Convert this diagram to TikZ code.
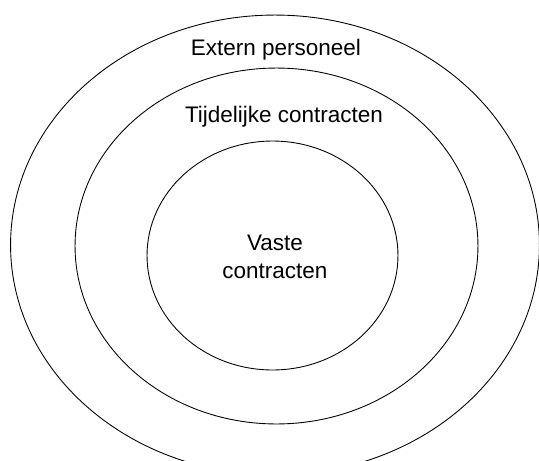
\documentclass[tikz,border=0pt]{standalone}
\usepackage{fontspec}
\setmainfont{Liberation Sans}
\usetikzlibrary{shapes,positioning}

\begin{document}
\begin{tikzpicture}[x=0.02cm,y=-0.02cm]
 \tikzset{ring node/.style={ellipse, draw, line width=0.5pt,
 		inner sep=0pt}, }
 \tikzset{label node/.style={align=center,
 		font=\fontsize{12.8}{15.9}\selectfont}, }
 \useasboundingbox (0,0) rectangle (539,461);
 \clip (0,0) rectangle (539,461);
 \node[ring node, minimum width=10.58cm, minimum height=9.2cm] (1) at (275,245) {};
 \node[ring node, minimum width=8.06cm, minimum height=7.12cm] (2) at (276.5,246) {};
 \node[ring node, minimum width=5.02cm, minimum height=4.58cm] (3) at (272.5,255.5) {};
 \node[label node] (4) at (276,50) {Extern personeel};
 \node[label node] (5) at (284,117) {Tijdelijke contracten};
 \node[label node] (6) at (275,257) {Vaste\\contracten};
% %%
\end{tikzpicture}
\end{document}
